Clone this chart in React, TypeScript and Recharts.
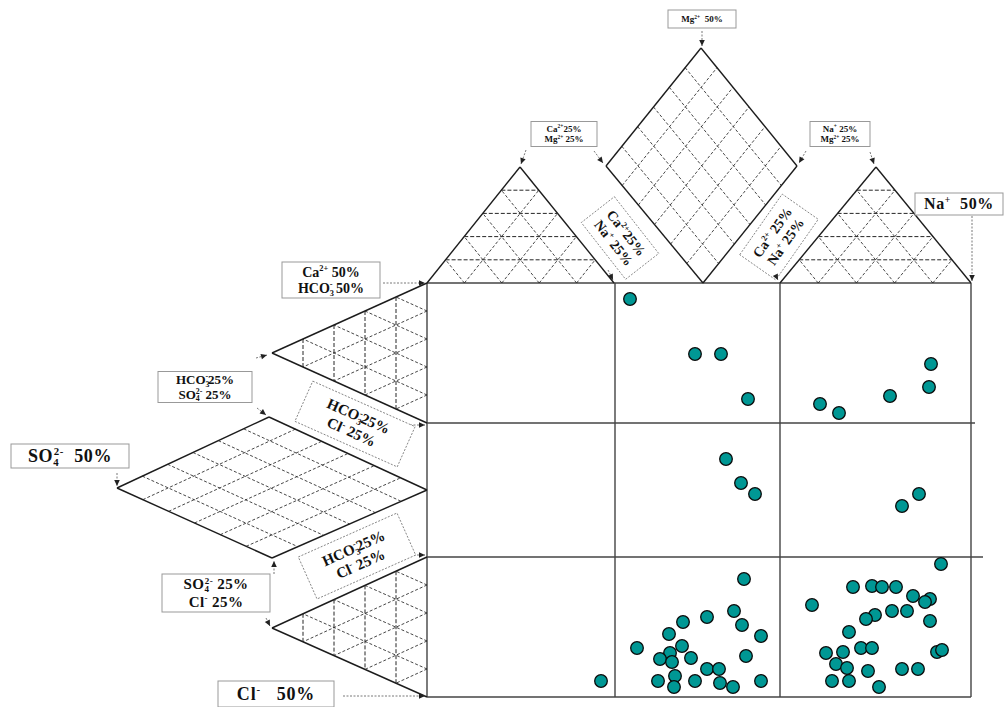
import { ReferenceLine, Scatter, ScatterChart, XAxis, YAxis } from "recharts";

const W = 1005;
const H = 707;
const FRAME = "#444";
const INK = "#1c1c1c";
const DASH = "#262626";
const TEAL = "#009794";
const SERIF = "'Liberation Serif', 'DejaVu Serif', serif";

type P = [number, number];

// samples (page px), by row of the square
const topRow: P[] = [[630, 299], [695, 354], [721, 354], [748, 399], [820, 404], [839, 413], [890, 396], [929, 387], [931, 364]];
const midRow: P[] = [[726, 459], [741, 483], [755, 494], [919, 494], [902, 506]];
const lowRow: P[] = [
  [601, 681], [744, 579], [734, 611], [742, 625], [707, 617], [683, 622], [669, 634], [761, 636], [637, 648],
  [682, 646], [746, 656], [670, 653], [660, 659], [672, 662], [691, 658], [707, 669], [719, 669], [675, 676],
  [658, 681], [695, 681], [720, 683], [761, 681], [674, 687], [733, 687],
  [941, 564], [853, 587], [872, 586], [882, 587], [896, 587], [913, 596], [930, 599], [925, 602], [812, 605],
  [892, 611], [907, 611], [875, 615], [866, 619], [930, 621], [849, 632], [861, 648], [872, 648], [826, 653],
  [843, 652], [937, 652], [942, 650], [836, 664], [847, 668], [868, 671], [902, 669], [918, 669], [832, 681],
  [849, 681], [879, 687],
];

// the square
const colX = [427, 615, 780, 971];
const rowY = [283, 423, 557, 697];
const rowEnd = [971, 975, 983, 971];

// ternary triangles: apex and the two base corners
const triangles: { apex: P; b1: P; b2: P }[] = [
  { apex: [520, 167], b1: [427, 283], b2: [614, 283] },
  { apex: [876, 167], b1: [780, 283], b2: [971, 283] },
  { apex: [272, 353], b1: [427, 283], b2: [427, 423] },
  { apex: [272, 628], b1: [427, 557], b2: [427, 697] },
];
const TRI_STEPS = 5;

// rhombi: top, right, bottom, left
const diamonds: P[][] = [
  [[701, 48], [797, 166], [703, 283], [606, 166]],
  [[269, 417], [427, 490], [272, 558], [117, 488]],
];
const DIAMOND_STEPS = 6;

// pointer arrows: from -> to
const arrows: [P, P][] = [
  [[702, 31], [702, 46]],
  [[526, 150], [521, 164]],
  [[594, 151], [603, 163]],
  [[806, 151], [799, 163]],
  [[870, 152], [874, 164]],
  [[972, 216], [972, 281]],
  [[608, 270], [613, 280]],
  [[773, 270], [778, 280]],
  [[383, 283], [425, 283]],
  [[256, 358], [267, 355]],
  [[257, 408], [266, 415]],
  [[410, 425], [425, 425]],
  [[117, 473], [117, 486]],
  [[410, 555], [425, 555]],
  [[274, 574], [274, 561]],
  [[266, 618], [270, 626]],
  [[343, 696], [425, 696]],
];

type Label = { x: number; y: number; w: number; h: number; rot: number; size: number; lines: string[]; dotted?: boolean; sp?: number };
const labels: Label[] = [
  { x: 702, y: 19, w: 68, h: 18, rot: 0, size: 9, lines: ["Mg^{2+}  50%"] },
  { x: 564, y: 134, w: 66, h: 25, rot: 0, size: 9, lines: ["Ca^{2+}25%", "Mg^{2+} 25%"] },
  { x: 840, y: 134, w: 60, h: 25, rot: 0, size: 9, lines: ["Na^{+} 25%", "Mg^{2+} 25%"] },
  { x: 959, y: 204, w: 88, h: 22, rot: 0, size: 16, lines: ["Na^{+}  50%"], sp: 0.6 },
  { x: 331, y: 280, w: 98, h: 36, rot: 0, size: 14, lines: ["Ca^{2+} 50%", "HCO_{3}^{-} 50%"] },
  { x: 205, y: 387, w: 94, h: 31, rot: 0, size: 13, lines: ["HCO_{3}^{-}25%", "SO_{4}^{2-} 25%"] },
  { x: 70, y: 456, w: 118, h: 24, rot: 0, size: 18, lines: ["SO_{4}^{2-}  50%"], sp: 0.6 },
  { x: 216, y: 593, w: 108, h: 38, rot: 0, size: 15, lines: ["SO_{4}^{2-} 25%", "Cl^{-} 25%"], sp: 0.4 },
  { x: 276, y: 694, w: 116, h: 26, rot: 0, size: 18, lines: ["Cl^{-}   50%"], sp: 0.8 },
  { x: 355, y: 424, w: 112, h: 44, rot: 24, size: 15, lines: ["HCO_{3}^{-}25%", "Cl^{-} 25%"], dotted: true },
  { x: 357, y: 556, w: 108, h: 46, rot: -24, size: 15, lines: ["HCO_{3}^{-}25%", "Cl^{-} 25%"], dotted: true },
  { x: 620, y: 238, w: 72, h: 42, rot: 52, size: 14, lines: ["Ca^{2+}25%", "Na^{+} 25%"], dotted: true },
  { x: 779, y: 237, w: 74, h: 44, rot: -55, size: 14, lines: ["Ca^{2+} 25%", "Na^{+} 25%"], dotted: true },
];

type Seg = { a: P; b: P; dash?: string; w?: number; c?: string };
const lerp = (p: P, q: P, t: number): P => [p[0] + (q[0] - p[0]) * t, p[1] + (q[1] - p[1]) * t];

const segs: Seg[] = [];
colX.forEach((x) => segs.push({ a: [x, rowY[0]], b: [x, rowY[3]], w: 1.4, c: FRAME }));
rowY.forEach((y, i) => segs.push({ a: [colX[0], y], b: [rowEnd[i], y], w: 1.4, c: FRAME }));
triangles.forEach(({ apex, b1, b2 }) => {
  segs.push({ a: apex, b: b1, w: 1.4, c: INK }, { a: apex, b: b2, w: 1.4, c: INK });
  for (let k = 1; k < TRI_STEPS; k++) {
    const t = k / TRI_STEPS;
    segs.push({ a: lerp(apex, b1, t), b: lerp(apex, b2, t), dash: "4 2", w: 1 });
    segs.push({ a: lerp(b1, b2, t), b: lerp(apex, b2, t), dash: "3 2" });
    segs.push({ a: lerp(b2, b1, t), b: lerp(apex, b1, t), dash: "3 2" });
  }
});
diamonds.forEach(([v0, v1, v2, v3]) => {
  segs.push({ a: v0, b: v1, w: 1.4, c: INK }, { a: v1, b: v2, w: 1.4, c: INK }, { a: v2, b: v3, w: 1.4, c: INK }, { a: v3, b: v0, w: 1.4, c: INK });
  for (let k = 1; k < DIAMOND_STEPS; k++) {
    const t = k / DIAMOND_STEPS;
    segs.push({ a: lerp(v3, v2, t), b: lerp(v0, v1, t), dash: "3 2" });
    segs.push({ a: lerp(v0, v3, t), b: lerp(v1, v2, t), dash: "3 2" });
  }
});
arrows.forEach(([a, b]) => segs.push({ a, b, w: 0.8, c: "#555", dash: "2 1.5" }));

const heads = arrows.map(([a, b]) => ({ x: b[0], y: b[1], ang: (Math.atan2(b[1] - a[1], b[0] - a[0]) * 180) / Math.PI }));
const samples = [...topRow, ...midRow, ...lowRow].map(([x, y]) => ({ x, y }));

type TxtSeg = { t: string; k: "n" | "sub" | "sup" };
function parse(s: string): TxtSeg[] {
  const out: TxtSeg[] = [];
  const re = /([_^])\{([^}]*)\}|([^_^]+)/g;
  let m: RegExpExecArray | null;
  while ((m = re.exec(s))) {
    if (m[3]) out.push({ t: m[3], k: "n" });
    else out.push({ t: m[2], k: m[1] === "_" ? "sub" : "sup" });
  }
  return out;
}

function TextLine({ text, size, y, sp }: { text: string; size: number; y: number; sp?: number }) {
  const parts = parse(text);
  const small = size * 0.6;
  let cur = 0;
  let prev: TxtSeg | null = null;
  return (
    <text x={0} y={y} textAnchor="middle" fontFamily={SERIF} fontWeight="bold" fontSize={size} fill="#111" letterSpacing={sp} style={{ whiteSpace: "pre" }}>
      {parts.map((s, i) => {
        const target = s.k === "sup" ? -0.38 * size : s.k === "sub" ? 0.2 * size : 0;
        const dy = target - cur;
        cur = target;
        const dx = s.k === "sup" && prev?.k === "sub" ? -prev.t.length * small * 0.5 : 0;
        prev = s;
        return (
          <tspan key={i} dy={dy} dx={dx || undefined} fontSize={s.k === "n" ? size : small}>
            {s.t}
          </tspan>
        );
      })}
    </text>
  );
}

function LabelShape(p: any) {
  const d: Label = p.payload;
  const lh = d.size * 1.15;
  return (
    <g transform={`translate(${p.cx},${p.cy}) rotate(${d.rot})`}>
      <rect x={-d.w / 2} y={-d.h / 2} width={d.w} height={d.h} fill="#fff" stroke={d.dotted ? "#777" : "#999"} strokeWidth={d.dotted ? 0.8 : 1} strokeDasharray={d.dotted ? "2 1.5" : undefined} />
      {d.lines.map((l, i) => (
        <TextLine key={i} text={l} size={d.size} sp={d.sp} y={(i - (d.lines.length - 1) / 2) * lh + d.size * 0.34} />
      ))}
    </g>
  );
}

function HeadShape(p: any) {
  return <polygon points="0,0 -6,-2.8 -6,2.8" fill="#222" transform={`translate(${p.cx},${p.cy}) rotate(${p.payload.ang})`} />;
}

function SampleDot(p: any) {
  return <circle cx={p.cx} cy={p.cy} r={6.3} fill={TEAL} stroke="#0a0a0a" strokeWidth={1.3} />;
}

export default function App() {
  return (
    <div style={{ position: "absolute", left: 0, top: 0, width: W, height: H, background: "#fff" }}>
      <ScatterChart width={W} height={H} margin={{ top: 0, right: 0, bottom: 0, left: 0 }}>
        <XAxis type="number" dataKey="x" domain={[0, W]} hide allowDataOverflow />
        <YAxis type="number" dataKey="y" domain={[0, H]} reversed hide allowDataOverflow />
        {segs.map((s, i) => (
          <ReferenceLine
            key={i}
            segment={[{ x: s.a[0], y: s.a[1] }, { x: s.b[0], y: s.b[1] }]}
            stroke={s.c ?? DASH}
            strokeWidth={s.w ?? 0.85}
            strokeDasharray={s.dash}
            ifOverflow="visible"
          />
        ))}
        <Scatter data={labels} shape={LabelShape} isAnimationActive={false} />
        <Scatter data={heads} shape={HeadShape} isAnimationActive={false} />
        <Scatter data={samples} shape={SampleDot} isAnimationActive={false} />
      </ScatterChart>
    </div>
  );
}
